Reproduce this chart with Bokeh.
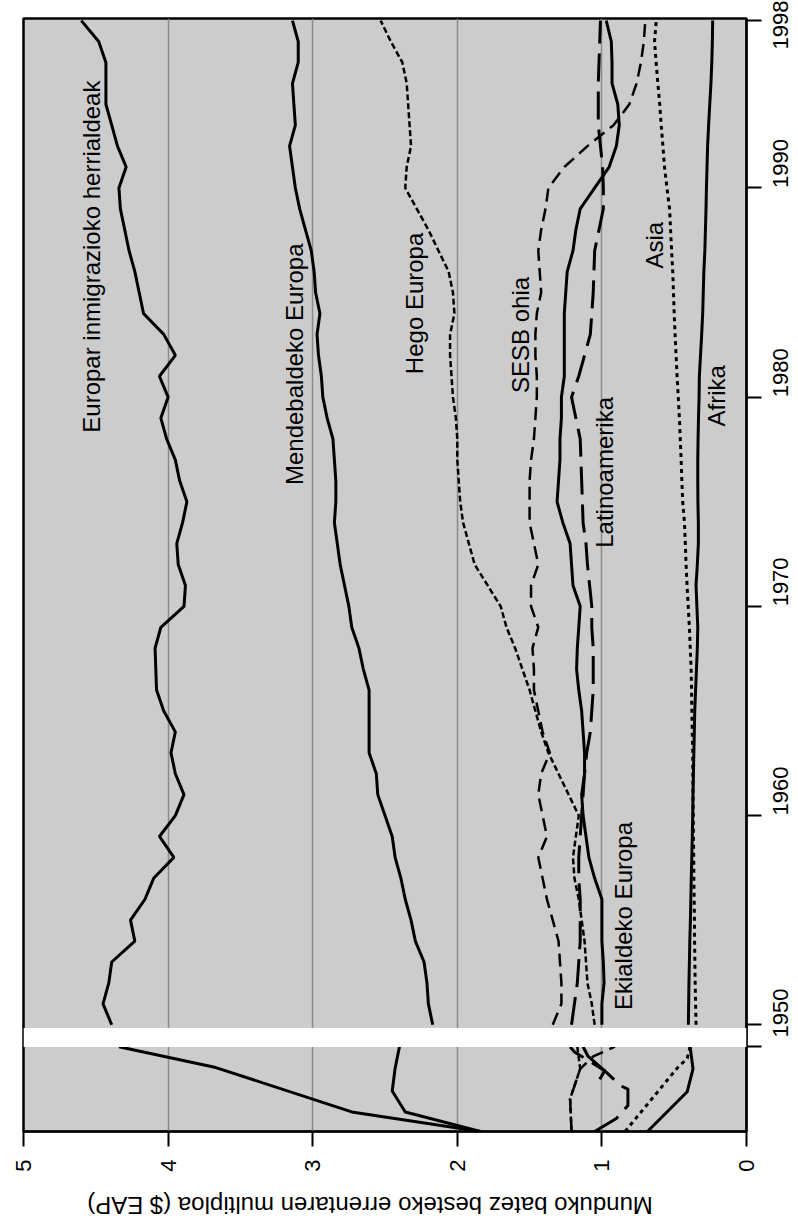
import math
from bokeh.plotting import figure
from bokeh.layouts import column
from bokeh.models import Range1d, FixedTicker, Label, BoxAnnotation
from bokeh.embed import file_html
from bokeh.resources import INLINE

FONT = "Liberation Sans"

# ---------------- data (1950-1998, ratio to world average) ----------------
YEARS = list(range(1950, 1999))

WESTERN_OFFSHOOTS = [4.39, 4.45, 4.41, 4.39, 4.23, 4.26, 4.16, 4.10, 3.96, 4.06,
                     3.95, 3.89, 3.95, 3.98, 3.95, 4.03, 4.08, 4.085, 4.09, 4.05,
                     3.89, 3.88, 3.93, 3.94, 3.90, 3.87, 3.92, 3.95, 4.01, 4.05,
                     4.00, 4.06, 3.95, 4.03, 4.17, 4.20, 4.23, 4.27, 4.30, 4.33,
                     4.34, 4.29, 4.35, 4.39, 4.43, 4.43, 4.43, 4.48, 4.60]
WESTERN_EUROPE = [2.17, 2.20, 2.21, 2.23, 2.29, 2.32, 2.36, 2.39, 2.43, 2.45,
                  2.50, 2.55, 2.56, 2.61, 2.61, 2.61, 2.61, 2.65, 2.68, 2.73,
                  2.75, 2.78, 2.81, 2.83, 2.85, 2.84, 2.84, 2.85, 2.86, 2.90,
                  2.93, 2.94, 2.96, 2.97, 2.95, 2.98, 2.99, 3.01, 3.05, 3.09,
                  3.12, 3.14, 3.16, 3.12, 3.13, 3.14, 3.10, 3.10, 3.14]
SOUTHERN_EUROPE = [1.05, 1.07, 1.10, 1.11, 1.12, 1.14, 1.16, 1.19, 1.20, 1.18,
                   1.16, 1.23, 1.30, 1.37, 1.42, 1.46, 1.50, 1.55, 1.60, 1.66,
                   1.70, 1.79, 1.88, 1.92, 1.96, 1.98, 1.99, 2.00, 2.00, 2.01,
                   2.03, 2.04, 2.05, 2.05, 2.02, 2.03, 2.06, 2.13, 2.20, 2.28,
                   2.36, 2.35, 2.32, 2.33, 2.34, 2.35, 2.38, 2.46, 2.53]
FORMER_USSR = [1.34, 1.28, 1.28, 1.29, 1.30, 1.34, 1.38, 1.41, 1.44, 1.38,
               1.41, 1.44, 1.42, 1.36, 1.41, 1.44, 1.47, 1.47, 1.48, 1.44,
               1.49, 1.49, 1.44, 1.47, 1.50, 1.50, 1.50, 1.49, 1.47, 1.46,
               1.45, 1.45, 1.46, 1.46, 1.45, 1.42, 1.43, 1.44, 1.42, 1.39,
               1.37, 1.26, 1.10, 0.92, 0.81, 0.76, 0.73, 0.71, 0.70]
LATIN_AMERICA = [1.21, 1.19, 1.17, 1.16, 1.15, 1.15, 1.15, 1.16, 1.16, 1.15,
                 1.14, 1.13, 1.12, 1.105, 1.08, 1.07, 1.06, 1.06, 1.06, 1.07,
                 1.07, 1.085, 1.10, 1.11, 1.13, 1.135, 1.14, 1.145, 1.15, 1.18,
                 1.21, 1.16, 1.12, 1.08, 1.07, 1.06, 1.055, 1.05, 1.02, 0.99,
                 0.99, 0.995, 1.01, 1.025, 1.025, 1.025, 1.02, 1.015, 1.01]
EASTERN_EUROPE = [1.00, 1.00, 0.985, 0.99, 1.00, 1.00, 1.00, 1.05, 1.09, 1.11,
                  1.13, 1.14, 1.12, 1.12, 1.13, 1.14, 1.16, 1.175, 1.17, 1.16,
                  1.15, 1.20, 1.21, 1.22, 1.27, 1.31, 1.30, 1.29, 1.29, 1.28,
                  1.28, 1.26, 1.26, 1.26, 1.26, 1.25, 1.24, 1.20, 1.18, 1.15,
                  1.05, 0.95, 0.90, 0.88, 0.89, 0.93, 0.93, 0.935, 0.97]
ASIA = [0.349, 0.352, 0.355, 0.357, 0.359, 0.36, 0.362, 0.364, 0.365, 0.367,
        0.368, 0.37, 0.371, 0.372, 0.375, 0.378, 0.38, 0.383, 0.389, 0.395,
        0.403, 0.411, 0.418, 0.423, 0.429, 0.441, 0.447, 0.452, 0.458, 0.464,
        0.472, 0.48, 0.487, 0.494, 0.50, 0.505, 0.51, 0.518, 0.525, 0.532,
        0.55, 0.567, 0.578, 0.59, 0.60, 0.613, 0.625, 0.636, 0.624]
AFRICA = [0.402, 0.40, 0.398, 0.395, 0.392, 0.388, 0.385, 0.382, 0.378, 0.375,
          0.372, 0.37, 0.367, 0.364, 0.361, 0.358, 0.352, 0.346, 0.34, 0.337,
          0.343, 0.349, 0.34, 0.333, 0.333, 0.336, 0.337, 0.337, 0.335, 0.332,
          0.328, 0.326, 0.318, 0.31, 0.303, 0.299, 0.295, 0.288, 0.284, 0.28,
          0.277, 0.273, 0.269, 0.262, 0.254, 0.246, 0.240, 0.236, 0.234]

# ---------------- historical section (1820-1950) ----------------
WO_H_YEARS = [1820, 1850, 1918, 1950]
WO_H = [1.84, 2.73, 3.67, 4.34]
WE_H_YEARS = [1820, 1850, 1882, 1917, 1950]
WE_H = [1.84, 2.36, 2.45, 2.43, 2.40]
SE_H_YEARS = [1820, 1870, 1916, 1950]
SE_H = [1.21, 1.22, 1.15, 1.17]
SU_H_YEARS = [1820, 1870, 1916, 1935, 1950]
SU_H = [1.21, 1.22, 1.15, 1.06, 0.91]
LA_H_YEARS = [1820, 1840, 1860, 1885, 1890, 1913, 1942, 1950]
LA_H = [1.05, 0.90, 0.82, 0.82, 0.87, 0.98, 1.19, 1.22]
EE_H_YEARS = [1900, 1913, 1935, 1950]
EE_H = [1.015, 0.98, 1.095, 1.13]
AS_H_YEARS = [1820, 1917, 1932, 1950]
AS_H = [0.84, 0.48, 0.41, 0.39]
AF_H_YEARS = [1820, 1881, 1916, 1950]
AF_H = [0.685, 0.41, 0.37, 0.39]

VALUE_TICKS = [0, 1, 2, 3, 4, 5]
YEAR_TICKS = [1960, 1970, 1980, 1990, 1998]
AXIS_TITLE = "Munduko batez besteko errentaren multiploa ($ EAP)"

# ---------------- geometry of the broken time axis ----------------
PX_PER_YEAR = 20.92          # modern section
PX_PER_YEAR_H = 0.6523       # historical section
FRAME_H = 1113
Y_END = 1998.1
Y_START = Y_END - FRAME_H / PX_PER_YEAR
BAND_TOP = 1949.85
BAND_BOTTOM = BAND_TOP - 19.2 / PX_PER_YEAR
H_START = 1820
H_END = H_START + FRAME_H / PX_PER_YEAR_H


def hist_to_main(year):
    return round(Y_START + (year - H_START) * PX_PER_YEAR_H / PX_PER_YEAR, 4)


p = figure(width=798, height=1185, output_backend="svg", toolbar_location=None,
           x_range=Range1d(5, 0), y_range=Range1d(Y_START, Y_END),
           x_axis_location="below", y_axis_location="right",
           min_border_left=23, min_border_top=18, min_border_bottom=54,
           min_border_right=49)
p.extra_y_ranges = {"hist": Range1d(H_START, H_END)}

p.background_fill_color = "#cccccc"
p.border_fill_color = "white"
p.outline_line_color = "black"
p.outline_line_width = 2.5

p.ygrid.grid_line_color = None
p.xgrid.ticker = FixedTicker(ticks=VALUE_TICKS)
p.xgrid.grid_line_color = "#8a8a8a"
p.xgrid.grid_line_width = 1.5

# value axis (bottom)
xa = p.xaxis[0]
xa.ticker = FixedTicker(ticks=VALUE_TICKS)
xa.major_tick_out = 15
xa.major_tick_in = 0
xa.minor_tick_line_color = None
xa.axis_line_color = "black"
xa.axis_line_width = 2
xa.major_tick_line_width = 2
xa.major_label_orientation = math.pi / 2
xa.major_label_text_font = FONT
xa.major_label_text_font_size = "22px"
xa.major_label_text_color = "black"
xa.major_label_standoff = 13

# year axis (right)
p1820 = hist_to_main(1820)
p1950b = hist_to_main(1950)
band_mid = round((BAND_TOP + BAND_BOTTOM) / 2, 4)
ya = p.yaxis[0]
ya.ticker = FixedTicker(ticks=[p1820, band_mid] + YEAR_TICKS,
                        minor_ticks=[p1820, p1950b, 1950] + YEAR_TICKS)
overrides = {p1820: "1820", band_mid: "1950"}
for t in YEAR_TICKS:
    overrides[t] = str(t)
ya.major_label_overrides = overrides
ya.major_tick_out = 0
ya.major_tick_in = 0
ya.minor_tick_out = 15
ya.minor_tick_in = 0
ya.minor_tick_line_color = "black"
ya.minor_tick_line_width = 2
ya.axis_line_color = "black"
ya.axis_line_width = 2
ya.major_label_orientation = math.pi / 2
ya.major_label_text_font = FONT
ya.major_label_text_font_size = "22px"
ya.major_label_text_color = "black"
ya.major_label_standoff = 19

# ---------------- series ----------------
styles = {
    "solid": dict(line_width=3, line_dash="solid"),
    "short": dict(line_width=2.5, line_dash="6 3"),
    "medium": dict(line_width=2.5, line_dash="13 7"),
    "long": dict(line_width=3, line_dash="28 10"),
    "dot": dict(line_width=3, line_dash="4 4"),
}
modern = [
    (WESTERN_OFFSHOOTS, "solid"), (WESTERN_EUROPE, "solid"),
    (SOUTHERN_EUROPE, "short"), (FORMER_USSR, "medium"),
    (LATIN_AMERICA, "long"), (EASTERN_EUROPE, "solid"),
    (ASIA, "dot"), (AFRICA, "solid"),
]
for vals, st in modern:
    p.line(vals, YEARS, line_color="black", **styles[st])

historic = [
    (WO_H, WO_H_YEARS, "solid"), (WE_H, WE_H_YEARS, "solid"),
    (SE_H, SE_H_YEARS, "short"), (SU_H, SU_H_YEARS, "medium"),
    (LA_H, LA_H_YEARS, "long"), (EE_H, EE_H_YEARS, "solid"),
    (AS_H, AS_H_YEARS, "dot"), (AF_H, AF_H_YEARS, "solid"),
]
for vals, yrs, st in historic:
    p.line(vals, yrs, line_color="black", y_range_name="hist", **styles[st])

# white break between the two time scales
p.add_layout(BoxAnnotation(bottom=BAND_BOTTOM, top=BAND_TOP, fill_color="white",
                           fill_alpha=1.0, line_color=None))

# ---------------- in-plot labels ----------------
labels = [
    ("Europar inmigrazioko herrialdeak", 4.53, 1978.3),
    ("Mendebaldeko Europa", 3.127, 1975.8),
    ("Hego Europa", 2.297, 1981.1),
    ("SESB ohia", 1.565, 1980.2),
    ("Latinoamerika", 0.98, 1972.8),
    ("Ekialdeko Europa", 0.849, 1950.7),
    ("Asia", 0.636, 1986.15),
    ("Afrika", 0.207, 1978.6),
]
for txt, xv, yv in labels:
    p.add_layout(Label(x=xv, y=yv, text=txt, angle=math.pi / 2,
                       text_align="left", text_baseline="middle",
                       text_font=FONT, text_font_size="24px", text_color="black"))

# ---------------- axis title strip (upside-down text) ----------------
t = figure(width=798, height=33, output_backend="svg", toolbar_location=None,
           x_range=Range1d(0, 798), y_range=Range1d(0, 33),
           min_border_left=0, min_border_right=0, min_border_top=0,
           min_border_bottom=0, x_axis_type=None, y_axis_type=None)
t.outline_line_color = None
t.grid.visible = False
t.background_fill_color = "white"
t.border_fill_color = "white"
t.add_layout(Label(x=382.5, y=13, text=AXIS_TITLE, angle=math.pi,
                   text_align="center", text_baseline="middle",
                   text_font=FONT, text_font_size="24px", text_color="black"))

layout = column(p, t, spacing=0)
open("out.html", "w").write(file_html(layout, INLINE))
